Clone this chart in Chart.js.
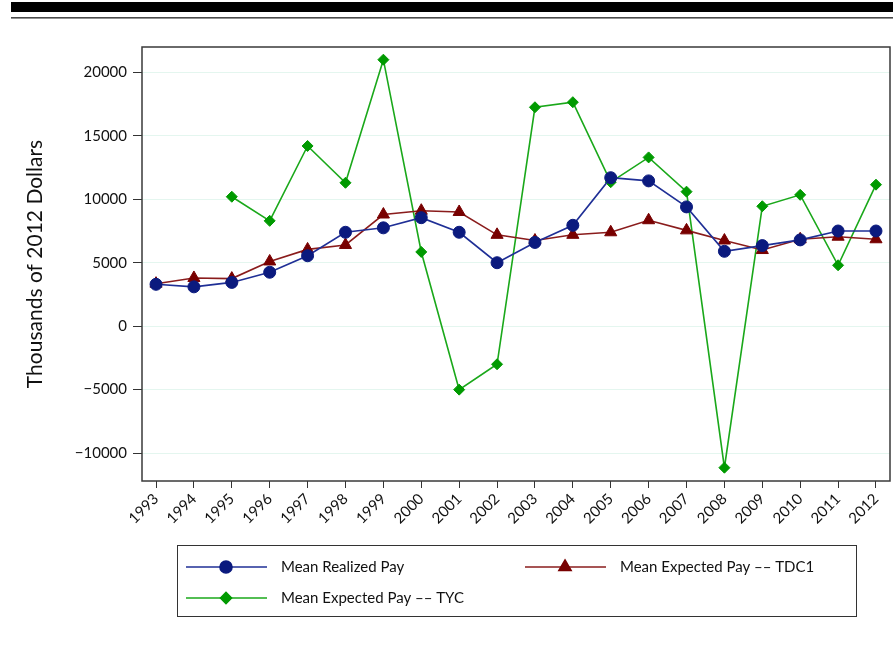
<!DOCTYPE html>
<html>
<head>
<meta charset="utf-8">
<script src="https://cdn.jsdelivr.net/npm/chart.js@4.4.1/dist/chart.umd.min.js"></script>
<style>
  html, body { margin: 0; padding: 0; background: #fff; }
  #wrap { width: 893px; height: 648px; position: relative; }
</style>
</head>
<body>
<div id="wrap"><canvas id="pay"></canvas></div>
<script>
// Years on the x axis
const years = [1993, 1994, 1995, 1996, 1997, 1998, 1999, 2000, 2001, 2002,
               2003, 2004, 2005, 2006, 2007, 2008, 2009, 2010, 2011, 2012];

// Mean realized pay (thousands of 2012 dollars)
const realizedPay = [3300, 3100, 3450, 4250, 5550, 7400, 7750, 8550, 7400, 5000,
                     6600, 7950, 11700, 11450, 9400, 5900, 6350, 6800, 7500, 7500];

// Mean expected pay, TDC1 measure
const expectedTDC1 = [3350, 3800, 3750, 5100, 6050, 6400, 8800, 9100, 9000, 7200,
                      6750, 7200, 7400, 8350, 7550, 6750, 6000, 6850, 7050, 6850];

// Mean expected pay, TYC measure (not available before 1995)
const expectedTYC = [null, null, 10200, 8300, 14200, 11300, 21000, 5850, -5000, -3000,
                     17250, 17650, 11350, 13300, 10600, -11150, 9450, 10350, 4800, 11150];

// Y axis tick labels
const yTicks = [-10000, -5000, 0, 5000, 10000, 15000, 20000];

const seriesNames = ['Mean Realized Pay', 'Mean Expected Pay –– TDC1', 'Mean Expected Pay –– TYC'];

const FONT = 'Lato, "Open Sans", sans-serif';

const toPoints = vals => years.map((yr, i) => ({ x: yr, y: vals[i] }));

// Page rules at the top, plot frame and the boxed legend
const decorations = {
  id: 'decorations',
  afterDraw(chart) {
    const ctx = chart.ctx;
    const a = chart.chartArea;
    ctx.save();
    // heavy rule and thin rule across the top
    ctx.fillStyle = '#000';
    ctx.fillRect(11, 2, 882, 10);
    ctx.fillStyle = '#4a4a4a';
    ctx.fillRect(11, 17, 882, 1.6);

    // plot frame
    ctx.strokeStyle = '#3a3a3a';
    ctx.lineWidth = 1.5;
    ctx.strokeRect(a.left, a.top, a.right - a.left, a.bottom - a.top);

    // legend box
    const box = { x: 177, y: 545, w: 679, h: 71 };
    ctx.strokeStyle = '#333';
    ctx.lineWidth = 1;
    ctx.strokeRect(box.x + 0.5, box.y + 0.5, box.w, box.h);

    const slots = [
      { x1: 186, x2: 267, mx: 226, tx: 281, y: 567 },
      { x1: 525, x2: 606, mx: 565, tx: 620, y: 567 },
      { x1: 186, x2: 267, mx: 226, tx: 281, y: 598 }
    ];
    chart.data.datasets.forEach((ds, i) => {
      const s = slots[i];
      ctx.strokeStyle = ds.borderColor;
      ctx.lineWidth = ds.borderWidth;
      ctx.beginPath();
      ctx.moveTo(s.x1, s.y);
      ctx.lineTo(s.x2, s.y);
      ctx.stroke();
      ctx.fillStyle = ds.pointBackgroundColor;
      ctx.strokeStyle = ds.pointBorderColor;
      Chart.helpers.drawPoint(ctx, {
        pointStyle: ds.pointStyle, radius: ds.pointRadius, rotation: 0, borderWidth: 1
      }, s.mx, s.y);
      ctx.fillStyle = '#111';
      ctx.font = '15px ' + FONT;
      ctx.textAlign = 'left';
      ctx.textBaseline = 'middle';
      ctx.fillText(ds.label, s.tx, s.y);
    });
    ctx.restore();
  }
};

new Chart(document.getElementById('pay'), {
  type: 'line',
  data: {
    datasets: [
      {
        label: seriesNames[0],
        data: toPoints(realizedPay),
        borderColor: '#1f2f96',
        borderWidth: 1.6,
        pointStyle: 'circle',
        pointRadius: 6,
        pointBackgroundColor: '#0b1a7e',
        pointBorderColor: '#0b1a7e',
        pointBorderWidth: 1
      },
      {
        label: seriesNames[1],
        data: toPoints(expectedTDC1),
        borderColor: '#8a1c1c',
        borderWidth: 1.6,
        pointStyle: 'triangle',
        pointRadius: 7,
        pointBackgroundColor: '#780000',
        pointBorderColor: '#780000',
        pointBorderWidth: 1
      },
      {
        label: seriesNames[2],
        data: toPoints(expectedTYC),
        borderColor: '#1aa81a',
        borderWidth: 1.6,
        pointStyle: 'rectRot',
        pointRadius: 5.5,
        pointBackgroundColor: '#009a00',
        pointBorderColor: '#009a00',
        pointBorderWidth: 1
      }
    ]
  },
  options: {
    responsive: true,
    maintainAspectRatio: false,
    animation: false,
    layout: { autoPadding: false, padding: { left: 0, top: 47, right: 3, bottom: 107 } },
    plugins: {
      legend: { display: false },
      tooltip: { enabled: false }
    },
    elements: { line: { tension: 0 } },
    scales: {
      x: {
        type: 'linear',
        min: 1992.63,
        max: 2012.37,
        border: { display: false },
        grid: { drawOnChartArea: false, drawTicks: true, tickLength: 7, tickColor: '#333', lineWidth: 1 },
        ticks: {
          stepSize: 1,
          includeBounds: false,
          autoSkip: false,
          minRotation: 45,
          maxRotation: 45,
          padding: 2,
          color: '#111',
          font: { family: FONT, size: 15 },
          callback: v => String(v)
        },
        afterFit(scale) {
          scale.height = 60;
          scale.paddingLeft = 0;
          scale.paddingRight = 0;
        }
      },
      y: {
        min: -12200,
        max: 22000,
        border: { display: false },
        grid: { color: '#e4f6ef', lineWidth: 1, drawTicks: true, tickLength: 9, tickColor: '#333' },
        afterBuildTicks(scale) {
          scale.ticks = yTicks.map(v => ({ value: v }));
        },
        ticks: {
          padding: 6,
          color: '#111',
          font: { family: FONT, size: 15 },
          callback: v => (v < 0 ? '\u2212' + Math.abs(v) : String(v))
        },
        title: {
          display: true,
          text: 'Thousands of 2012 Dollars',
          color: '#111',
          font: { family: FONT, size: 21 },
          padding: { top: 23, bottom: 0 }
        },
        afterFit(scale) {
          scale.width = 142;
          scale.paddingTop = 0;
          scale.paddingBottom = 0;
        }
      }
    }
  },
  plugins: [decorations]
});
</script>
</body>
</html>
